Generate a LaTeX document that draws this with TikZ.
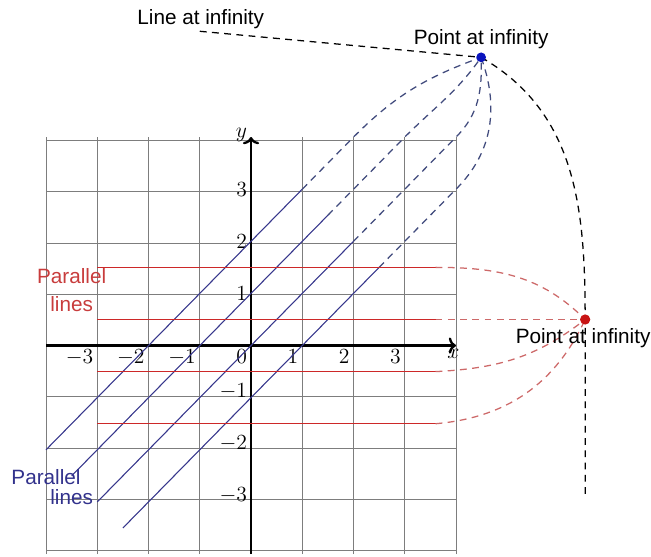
\documentclass[tikz,border=0pt]{standalone}
\usepackage{fontspec}
\newfontfamily\labfont{Liberation Sans}
\usetikzlibrary{arrows.meta}
\definecolor{gridc}{RGB}{125,125,125}
\definecolor{bl}{RGB}{55,55,140}
\definecolor{bld}{RGB}{65,75,125}
\definecolor{rd}{RGB}{205,40,40}
\definecolor{rdd}{RGB}{205,105,105}
\definecolor{rdtext}{RGB}{200,60,60}
\definecolor{bltext}{RGB}{50,50,140}
\definecolor{dotb}{RGB}{10,20,190}
\definecolor{dotr}{RGB}{200,20,20}
\tikzset{
  gridline/.style={draw=gridc, line width=0.5pt},
  axisline/.style={line width=1.3pt, -{To[length=4pt,width=9pt]}},
  blueline/.style={draw=bl, line width=0.6pt},
  bluedash/.style={draw=bld, line width=0.7pt, dash pattern=on 3.8pt off 3pt},
  redline/.style={draw=rd, line width=0.8pt},
  reddash/.style={draw=rdd, line width=0.7pt, dash pattern=on 3.8pt off 3pt},
  blackdash/.style={draw=black, line width=0.7pt, dash pattern=on 3.8pt off 3pt},
  sflabel/.style={font=\labfont\fontsize{11.5}{14}\selectfont, inner sep=0pt},
  xtick/.style={anchor=north east, inner sep=2pt},
  ytickpos/.style={anchor=east, inner sep=2pt},
  yticknegl/.style={anchor=base east, inner sep=2pt},
  dotnode/.style={circle, inner sep=0pt, minimum size=#1},
}
\begin{document}
\begin{tikzpicture}[x=1cm, y=1.017cm, font=\fontsize{11.5}{14}\selectfont]
\useasboundingbox (-4.898,-4.04) rectangle (7.805,6.63);
% grid
\draw[gridline] (-4,-4) grid (4,4);
% axes
\coordinate (xs) at (-4,0); \coordinate (xe) at (4,0);
\coordinate (ys) at (0,-4); \coordinate (ye) at (0,4);
\draw[axisline] (xs) -- (xe);
\draw[axisline] (ys) -- (ye);
\node[anchor=north, inner sep=2pt] (xlab) at (3.95,0) {$x$};
\node[anchor=east, inner sep=2pt] (ylab) at (0,4.05) {$y$};
% tick labels
\foreach \i in {-3,...,3} \node[xtick] (xt\i) at (\i,0) {$\i$};
\foreach \i in {1,2,3} \node[ytickpos] (yt\i) at (0,\i) {$\i$};
\foreach \i in {-1,-2,-3} \node[yticknegl] (yt\i) at (0,\i) {$\i$};
% key points
\coordinate (pb) at (4.49,5.53);
\coordinate (pr) at (6.52,0.5);
\coordinate (vend) at (6.52,-2.9);
\coordinate (lstart) at (-1.0,6.03);
% blue parallel lines y = x + c
\coordinate (b1s) at (-4,-2);   \coordinate (b1e) at (1,3);   \coordinate (b1m) at (2,4);
\coordinate (b2s) at (-3.5,-2.5); \coordinate (b2e) at (1.5,2.5); \coordinate (b2m) at (3,4);
\coordinate (b3s) at (-3,-3);   \coordinate (b3e) at (2,2);   \coordinate (b3m) at (4,4);
\coordinate (b4s) at (-2.5,-3.5); \coordinate (b4e) at (2.5,1.5); \coordinate (b4m) at (4,3);
\draw[blueline] (b1s) -- (b1e);
\draw[blueline] (b2s) -- (b2e);
\draw[blueline] (b3s) -- (b3e);
\draw[blueline] (b4s) -- (b4e);
\draw[bluedash] (b1e) -- (b1m) to[out=45,in=200] (pb);
\draw[bluedash] (b2e) -- (b2m) to[out=45,in=235] (pb);
\draw[bluedash] (b3e) -- (b3m) to[out=45,in=272] (pb);
\draw[bluedash] (b4e) -- (b4m) to[out=45,in=290] (pb);
% red parallel lines
\foreach \y/\n in {1.5/1,0.5/2,-0.5/3,-1.5/4} {
  \coordinate (r\n s) at (-3,\y);
  \coordinate (r\n e) at (3.6,\y);
  \draw[redline] (r\n s) -- (r\n e);
}
\draw[reddash] (r1e) to[out=0,in=135] (pr);
\draw[reddash] (r2e) -- (pr);
\draw[reddash] (r3e) to[out=3,in=218] (pr);
\draw[reddash] (r4e) to[out=5,in=245] (pr);
% line at infinity and the far curve
\draw[blackdash] (lstart) -- (pb);
\draw[blackdash] (pb) to[out=-30,in=90] (pr) -- (vend);
% points at infinity
\node[dotnode=0.19cm, fill=dotb] (pbdot) at (pb) {};
\node[dotnode=0.2cm, fill=dotr] (prdot) at (pr) {};
% labels
\node[sflabel] (linf) at (-0.98,6.26) {Line at infinity};
\node[sflabel] (pblab) at (4.49,5.87) {Point at infinity};
\node[sflabel] (prlab) at (6.48,0.15) {Point at infinity};
\node[sflabel, text=rdtext, align=center] (redlab) at (-3.5,1.07) {Parallel\\[1.5pt]lines};
\node[sflabel, text=bltext] (bluelab1) at (-4.0,-2.52) {Parallel};
\node[sflabel, text=bltext] (bluelab2) at (-3.5,-2.9) {lines};
\end{tikzpicture}
\end{document}
